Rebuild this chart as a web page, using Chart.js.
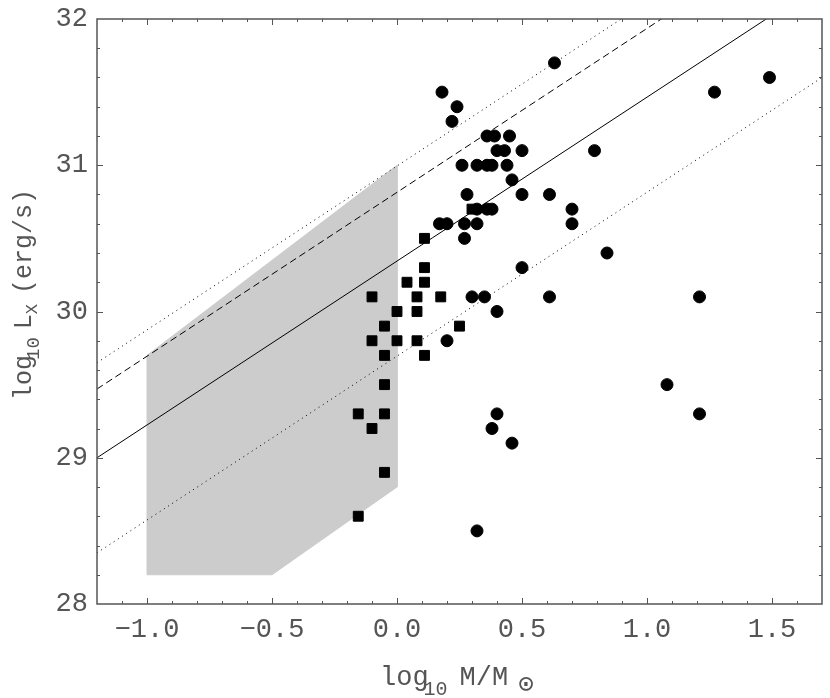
<!DOCTYPE html>
<html>
<head>
<meta charset="utf-8">
<script src="https://cdn.jsdelivr.net/npm/chart.js@4.4.0/dist/chart.umd.min.js"></script>
<style>
  html, body { margin: 0; padding: 0; background: #fff; }
</style>
</head>
<body>
<canvas id="massLx" width="830" height="698"></canvas>
<script>
// tick labels
const xTickValues = [-1.0, -0.5, 0.0, 0.5, 1.0, 1.5];
const yTickValues = [28, 29, 30, 31, 32];

// filled squares
const squareX = [0.11, 0.11, 0.04, 0.11, -0.10, 0.08, 0.175, 0.0, 0.08, -0.05, 0.25, -0.10,
                 0.0, 0.08, -0.05, 0.11, -0.05, -0.155, -0.05, -0.10, -0.05, -0.155, 0.30];
const squareY = [30.5, 30.3, 30.2, 30.2, 30.1, 30.1, 30.1, 30.0, 30.0, 29.9, 29.9, 29.8,
                 29.8, 29.8, 29.7, 29.7, 29.5, 29.3, 29.3, 29.2, 28.9, 28.6, 30.7];

// filled circles
const circleX = [0.63, 1.49, 0.18, 1.27, 0.24, 0.22, 0.36, 0.39, 0.45, 0.40, 0.43, 0.50, 0.79,
                 0.26, 0.32, 0.36, 0.38, 0.44, 0.46, 0.28, 0.50, 0.61, 0.32, 0.36, 0.38, 0.70,
                 0.17, 0.20, 0.27, 0.32, 0.70, 0.27, 0.84, 0.50, 0.30, 0.35, 0.61, 1.21, 0.40,
                 0.20, 1.08, 0.40, 1.21, 0.38, 0.46, 0.32];
const circleY = [31.7, 31.6, 31.5, 31.5, 31.4, 31.3, 31.2, 31.2, 31.2, 31.1, 31.1, 31.1, 31.1,
                 31.0, 31.0, 31.0, 31.0, 31.0, 30.9, 30.8, 30.8, 30.8, 30.7, 30.7, 30.7, 30.7,
                 30.6, 30.6, 30.6, 30.6, 30.6, 30.5, 30.4, 30.3, 30.1, 30.1, 30.1, 30.1, 30.0,
                 29.8, 29.5, 29.3, 29.3, 29.2, 29.1, 28.5];

// grey region
const regionX = [-1.0, 0.0, 0.0, -0.5, -1.0, -1.0];
const regionY = [29.7, 31.0, 28.8, 28.2, 28.2, 29.7];

// relation lines, ends at the plot edges
const lineX = [-1.2, 1.7];
const solidY = [29.0, 32.25];
const dashedY = [29.47, 32.72];
const upperDottedY = [29.65, 32.9];
const lowerDottedY = [28.35, 31.6];

const FONT = '"Liberation Mono", "Courier New", monospace';

function pairs(xs, ys) {
    return xs.map((v, i) => ({ x: v, y: ys[i] }));
}

function lineSet(ys, dash) {
    return {
        data: pairs(lineX, ys),
        showLine: true,
        borderColor: '#000',
        borderWidth: 1,
        borderDash: dash,
        pointRadius: 0,
        fill: false
    };
}

// draws text pieces one after another on a baseline, [text, size, shift, extra gap]
function drawPieces(ctx, pieces, x, y) {
    pieces.forEach(p => {
        ctx.font = p[1] + 'px ' + FONT;
        ctx.fillText(p[0], x, y + p[2]);
        x += ctx.measureText(p[0]).width + (p[3] || 0);
    });
}

// frame with inward ticks and the axis titles
const frameTicks = {
    id: 'frameTicks',
    afterDatasetsDraw(chart) {
        const ctx = chart.ctx;
        const a = chart.chartArea;
        const xs = chart.scales.x;
        const ys = chart.scales.y;
        ctx.save();
        ctx.strokeStyle = '#555';
        ctx.lineWidth = 1;
        ctx.beginPath();
        for (let i = -11; i <= 16; i++) {
            const px = Math.round(xs.getPixelForValue(i / 10)) + 0.5;
            const len = i % 5 === 0 ? 6 : 3;
            ctx.moveTo(px, a.bottom); ctx.lineTo(px, a.bottom - len);
            ctx.moveTo(px, a.top); ctx.lineTo(px, a.top + len);
        }
        for (let k = 1; k < 20; k++) {
            const py = Math.round(ys.getPixelForValue(28 + k * 0.2)) + 0.5;
            const len = k % 5 === 0 ? 6 : 3;
            ctx.moveTo(a.left, py); ctx.lineTo(a.left + len, py);
            ctx.moveTo(a.right, py); ctx.lineTo(a.right - len, py);
        }
        ctx.stroke();
        ctx.lineWidth = 1.5;
        ctx.strokeRect(a.left, a.top, a.right - a.left, a.bottom - a.top);

        ctx.fillStyle = '#555';
        ctx.textBaseline = 'alphabetic';
        ctx.textAlign = 'left';
        // x title
        drawPieces(ctx, [['log', 27, 0, -5], ['10', 20, 10, 12], ['M/M', 27, 0, 10], ['\u2299', 26, 7]], 380, 685);
        // y title
        ctx.translate(31, 400);
        ctx.rotate(-Math.PI / 2);
        drawPieces(ctx, [['log', 25, 0, -5], ['10', 19, 8, 8], ['L', 25, 0, 0], ['X', 17, 6, 10], ['(erg/s)', 25, 0]], 0, 0);
        ctx.restore();
    }
};

new Chart(document.getElementById('massLx'), {
    type: 'scatter',
    data: {
        datasets: [
            {
                data: pairs(circleX, circleY),
                pointStyle: 'circle',
                pointRadius: 6,
                backgroundColor: '#000',
                borderColor: '#000',
                borderWidth: 1
            },
            {
                data: pairs(squareX, squareY),
                pointStyle: 'rect',
                pointRadius: 7,
                backgroundColor: '#000',
                borderColor: '#000',
                borderWidth: 1
            },
            lineSet(solidY, []),
            lineSet(dashedY, [7, 4]),
            lineSet(upperDottedY, [1, 4]),
            lineSet(lowerDottedY, [1, 4]),
            {
                data: pairs(regionX, regionY),
                showLine: true,
                fill: 'shape',
                backgroundColor: '#cccccc',
                borderColor: '#cccccc',
                borderWidth: 1,
                pointRadius: 0
            }
        ]
    },
    options: {
        responsive: false,
        animation: false,
        events: [],
        layout: { padding: { top: 19, right: 1, left: 0, bottom: 0 } },
        plugins: {
            legend: { display: false },
            tooltip: { enabled: false }
        },
        scales: {
            x: {
                type: 'linear',
                min: -1.2,
                max: 1.7,
                grid: { display: false, drawTicks: false },
                border: { display: false },
                afterBuildTicks: s => { s.ticks = xTickValues.map(v => ({ value: v })); },
                afterFit: s => { s.height = 94; s.paddingLeft = 0; s.paddingRight = 0; },
                ticks: {
                    padding: 10,
                    color: '#555',
                    font: { family: FONT, size: 27 },
                    maxRotation: 0,
                    callback: v => (v < 0 ? '\u2212' : '') + Math.abs(v).toFixed(1)
                }
            },
            y: {
                type: 'linear',
                min: 28,
                max: 32,
                grid: { display: false, drawTicks: false },
                border: { display: false },
                afterBuildTicks: s => { s.ticks = yTickValues.map(v => ({ value: v })); },
                afterFit: s => { s.width = 97; s.paddingTop = 0; s.paddingBottom = 0; },
                ticks: {
                    padding: 9,
                    color: '#555',
                    font: { family: FONT, size: 27 },
                    callback: v => String(v)
                }
            }
        }
    },
    plugins: [frameTicks]
});
</script>
</body>
</html>
